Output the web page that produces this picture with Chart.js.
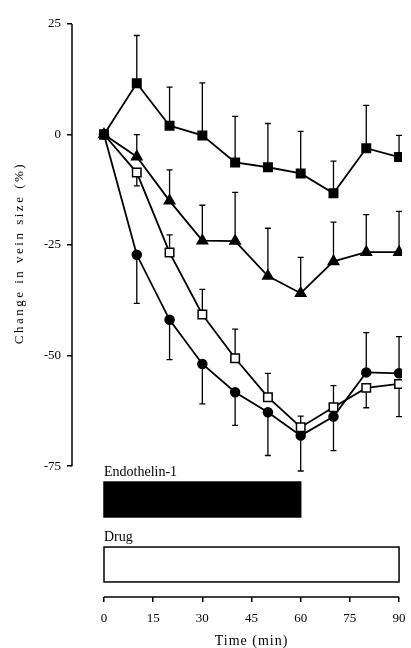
<!DOCTYPE html>
<html>
<head>
<meta charset="utf-8">
<script src="https://cdn.jsdelivr.net/npm/chart.js@4/dist/chart.umd.min.js"></script>
<style>
  body { margin: 0; background: #fff; }
  #wrap { position: relative; width: 411px; height: 648px; }
</style>
</head>
<body>
<div id="wrap"><canvas id="veinChart"></canvas></div>
<script>
// Time points (min)
const times = [0, 10, 20, 30, 40, 50, 60, 70, 80, 90];

// Mean change in vein size (%) for each group
const filledSquare = [0, 11.6, 2, -0.2, -6.3, -7.4, -8.8, -13.3, -3.1, -5.1];
const filledTriangle = [0, -5, -15, -24, -24.1, -32, -35.9, -28.7, -26.6, -26.6];
const openSquare = [0, -8.6, -26.7, -40.7, -50.6, -59.4, -66.2, -61.7, -57.3, -56.4];
const filledCircle = [0, -27.2, -41.9, -51.9, -58.3, -62.8, -68.1, -63.8, -53.8, -54];

// Error bars (SEM) - positive is drawn upwards, negative downwards
const filledSquareErr = [0, 10.8, 8.7, 11.9, 10.4, 9.9, 9.5, 7.3, 9.7, 4.9];
const filledTriangleErr = [0, 5, 7, 8, 11, 10.8, 8.1, 8.9, 8.5, 9.2];
const openSquareErr = [0, -3, 4, 5.7, 6.6, 5.4, 2.5, 4.9, -4.5, -7.4];
const filledCircleErr = [0, -11, -9, -9, -7.5, -9.8, -8, -7.7, 9, 8.3];

// Axis ticks
const xTicks = [0, 15, 30, 45, 60, 75, 90];
const yTicks = [25, 0, -25, -50, -75];

// Treatment periods (min)
const treatments = ['Endothelin-1', 'Drug'];
const treatmentStart = [0, 0];
const treatmentEnd = [60, 90];

const serif = '"Liberation Serif", "DejaVu Serif", serif';

const toPoints = (values) => times.map((t, i) => ({ x: t, y: values[i] }));

function series(values, err, style, fill) {
    return {
        data: toPoints(values),
        err: err,
        borderColor: '#000',
        borderWidth: 1.8,
        pointStyle: style,
        pointRadius: style === 'circle' ? 4.5 : 6,
        pointBackgroundColor: fill,
        pointBorderColor: '#000',
        pointBorderWidth: 1.5,
        tension: 0,
        fill: false
    };
}

// Draws error bars, the axis lines, axis titles and the treatment boxes
const extrasPlugin = {
    id: 'extras',
    beforeDatasetsDraw(chart) {
        const ctx = chart.ctx;
        const x = chart.scales.x, y = chart.scales.y;
        ctx.save();
        ctx.strokeStyle = '#000';
        ctx.lineWidth = 1.3;
        chart.data.datasets.forEach(ds => {
            ds.data.forEach((p, i) => {
                const e = ds.err[i];
                if (!e) return;
                const px = x.getPixelForValue(p.x);
                const y0 = y.getPixelForValue(p.y);
                const y1 = y.getPixelForValue(p.y + e);
                ctx.beginPath();
                ctx.moveTo(px, y0);
                ctx.lineTo(px, y1);
                ctx.moveTo(px - 3, y1);
                ctx.lineTo(px + 3, y1);
                ctx.stroke();
            });
        });
        ctx.restore();
    },
    afterDraw(chart) {
        const ctx = chart.ctx;
        const x = chart.scales.x, y = chart.scales.y;
        const area = chart.chartArea;
        const x0 = x.getPixelForValue(xTicks[0]);
        const x1 = x.getPixelForValue(xTicks[xTicks.length - 1]);
        ctx.save();
        ctx.strokeStyle = '#000';
        ctx.lineWidth = 1.5;

        // y axis line from 25 to -75
        ctx.beginPath();
        ctx.moveTo(area.left, y.getPixelForValue(yTicks[0]));
        ctx.lineTo(area.left, y.getPixelForValue(yTicks[yTicks.length - 1]));
        ctx.stroke();

        // x axis line from 0 to 90
        ctx.beginPath();
        ctx.moveTo(x0, area.bottom);
        ctx.lineTo(x1, area.bottom);
        ctx.stroke();

        ctx.fillStyle = '#000';
        ctx.textAlign = 'center';
        ctx.textBaseline = 'middle';

        // x axis title, centred under the 0-90 axis
        ctx.font = '14px ' + serif;
        ctx.letterSpacing = '1px';
        ctx.fillText('Time (min)', (x0 + x1) / 2, 641);

        // y axis title
        ctx.font = '13px ' + serif;
        ctx.letterSpacing = '2.5px';
        ctx.translate(20, (y.getPixelForValue(25) + y.getPixelForValue(-75)) / 2 + 8);
        ctx.rotate(-Math.PI / 2);
        ctx.fillText('Change in vein size (%)', 0, 0);
        ctx.setTransform(1, 0, 0, 1, 0, 0);
        ctx.letterSpacing = '0px';

        // treatment boxes (top/bottom given in y-scale units)
        const boxes = [[-78.6, -86.5, '#000'], [-93.3, -101.2, '#fff']];
        treatments.forEach((name, i) => {
            const left = x.getPixelForValue(treatmentStart[i]);
            const right = x.getPixelForValue(treatmentEnd[i]);
            const top = y.getPixelForValue(boxes[i][0]);
            const bottom = y.getPixelForValue(boxes[i][1]);
            ctx.fillStyle = boxes[i][2];
            ctx.fillRect(left, top, right - left, bottom - top);
            ctx.lineWidth = 1.5;
            ctx.strokeRect(left, top, right - left, bottom - top);
            ctx.fillStyle = '#000';
            ctx.font = '14px ' + serif;
            ctx.textAlign = 'left';
            ctx.textBaseline = 'alphabetic';
            ctx.fillText(name, left, top - 6);
        });
        ctx.restore();
    }
};

const chart = new Chart(document.getElementById('veinChart'), {
    type: 'line',
    data: {
        datasets: [
            series(filledSquare, filledSquareErr, 'rect', '#000'),
            series(filledTriangle, filledTriangleErr, 'triangle', '#000'),
            series(openSquare, openSquareErr, 'rect', '#fff'),
            series(filledCircle, filledCircleErr, 'circle', '#000')
        ]
    },
    options: {
        responsive: true,
        maintainAspectRatio: false,
        animation: false,
        layout: { padding: { top: 24, right: 9, left: 0, bottom: 0 } },
        plugins: {
            legend: { display: false },
            tooltip: { enabled: false }
        },
        scales: {
            x: {
                type: 'linear',
                min: -9.76,
                max: 90.9,
                afterBuildTicks: (scale) => { scale.ticks = xTicks.map(v => ({ value: v })); },
                afterFit: (scale) => {
                    scale.height = 51;
                    scale.paddingLeft = 0;
                    scale.paddingRight = 0;
                },
                border: { display: false },
                grid: { drawOnChartArea: false, drawTicks: true, tickLength: 5, color: '#000', lineWidth: 1.5 },
                ticks: { color: '#000', font: { family: serif, size: 13 }, padding: 9, maxRotation: 0 }
            },
            y: {
                min: -104.6,
                max: 25,
                afterBuildTicks: (scale) => { scale.ticks = yTicks.map(v => ({ value: v })); },
                afterFit: (scale) => {
                    scale.width = 72;
                    scale.paddingTop = 0;
                    scale.paddingBottom = 0;
                },
                border: { display: false },
                grid: { drawOnChartArea: false, drawTicks: true, tickLength: 5, color: '#000', lineWidth: 1.5 },
                ticks: { color: '#000', font: { family: serif, size: 13 }, padding: 6 }
            }
        }
    },
    plugins: [extrasPlugin]
});
</script>
</body>
</html>
